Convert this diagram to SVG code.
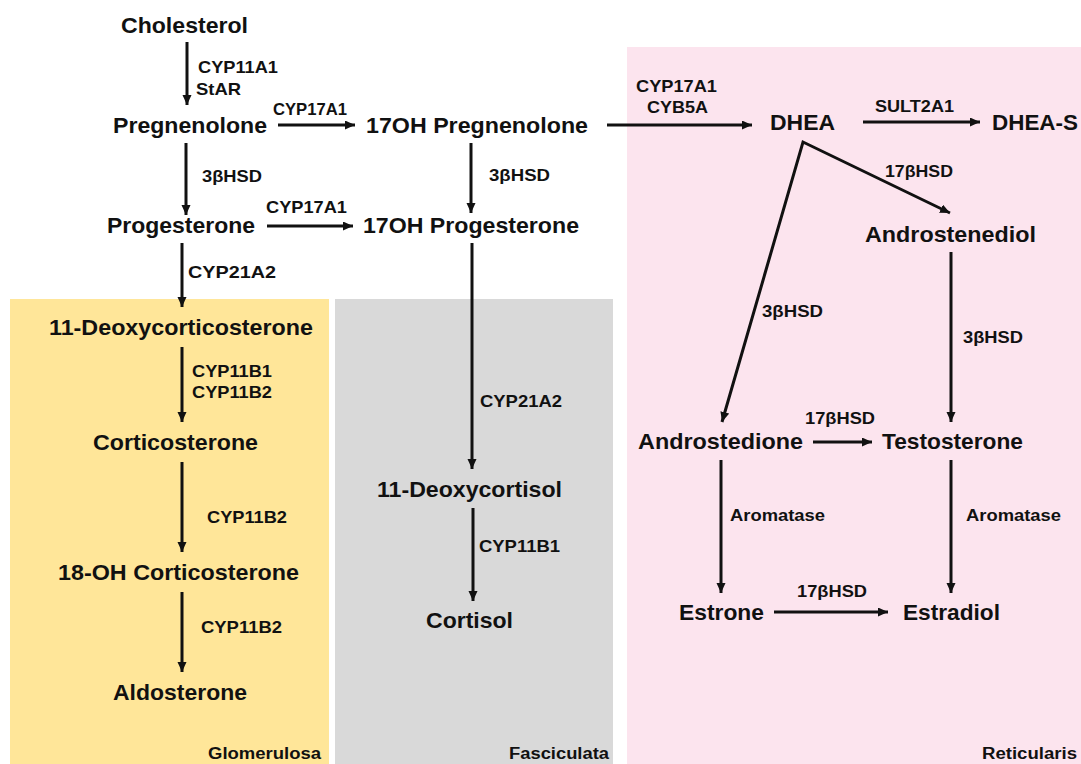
<svg xmlns="http://www.w3.org/2000/svg" width="1081" height="764" viewBox="0 0 1081 764">
  <defs>
    <marker id="ah" markerUnits="userSpaceOnUse" markerWidth="11" markerHeight="10" refX="10" refY="4.5" orient="auto-start-reverse">
      <path d="M0,0 L10,4.5 L0,9 z" fill="#111"/>
    </marker>
    <style>
      text { font-family: "Liberation Sans", Arial, sans-serif; font-weight: bold; fill: #111; }
      .n { font-size: 22px; }
      .e { font-size: 17px; }
      .z { font-size: 16px; }
      .c line, .c polyline { stroke: #111; stroke-width: 3; fill: none; marker-end: url(#ah); }
      .c polyline { marker-start: url(#ah); stroke-linejoin: miter; }
    </style>
  </defs>

  <rect width="1081" height="764" fill="#ffffff"/>

  <!-- adrenal cortex zones -->
  <g id="zones">
    <rect x="10" y="299" width="319" height="465" fill="#FFE699"/>
    <rect x="335" y="299" width="278" height="465" fill="#D9D9D9"/>
    <rect x="627" y="47" width="454" height="717" fill="#FCE4EE"/>
    <text class="z" x="208" y="759" textLength="113" lengthAdjust="spacingAndGlyphs">Glomerulosa</text>
    <text class="z" x="509" y="759" textLength="100" lengthAdjust="spacingAndGlyphs">Fasciculata</text>
    <text class="z" x="982" y="759" textLength="95" lengthAdjust="spacingAndGlyphs">Reticularis</text>
  </g>

  <!-- reaction arrows -->
  <g id="connectors" class="c">
    <line x1="187" y1="42" x2="187" y2="105"/>
    <line x1="278" y1="125" x2="355" y2="125"/>
    <line x1="186" y1="143" x2="186" y2="215"/>
    <line x1="267" y1="226" x2="353" y2="226"/>
    <line x1="471" y1="143" x2="471" y2="213"/>
    <line x1="182" y1="243" x2="182" y2="307"/>
    <line x1="472" y1="243" x2="472" y2="469"/>
    <line x1="182" y1="347" x2="182" y2="422"/>
    <line x1="182" y1="462" x2="182" y2="552"/>
    <line x1="182" y1="592" x2="182" y2="672"/>
    <line x1="473" y1="508" x2="473" y2="601"/>
    <line x1="607" y1="125" x2="752" y2="125"/>
    <line x1="863" y1="122" x2="980" y2="122"/>
    <polyline points="722,422 803,142 950,213"/>
    <line x1="951" y1="252" x2="951" y2="422"/>
    <line x1="813" y1="442" x2="872" y2="442"/>
    <line x1="721" y1="460" x2="721" y2="593"/>
    <line x1="951" y1="460" x2="951" y2="593"/>
    <line x1="774" y1="612" x2="888" y2="612"/>
  </g>

  <!-- enzyme labels -->
  <g id="enzymes" class="e">
    <text x="198" y="73" textLength="80" lengthAdjust="spacingAndGlyphs">CYP11A1</text>
    <text x="196" y="95" textLength="45" lengthAdjust="spacingAndGlyphs">StAR</text>
    <text x="273" y="115" textLength="74" lengthAdjust="spacingAndGlyphs">CYP17A1</text>
    <text x="202" y="182" textLength="60" lengthAdjust="spacingAndGlyphs">3βHSD</text>
    <text x="266" y="213" textLength="81" lengthAdjust="spacingAndGlyphs">CYP17A1</text>
    <text x="489" y="181" textLength="61" lengthAdjust="spacingAndGlyphs">3βHSD</text>
    <text x="188" y="278" textLength="88" lengthAdjust="spacingAndGlyphs">CYP21A2</text>
    <text x="192" y="377" textLength="80" lengthAdjust="spacingAndGlyphs">CYP11B1</text>
    <text x="192" y="398" textLength="80" lengthAdjust="spacingAndGlyphs">CYP11B2</text>
    <text x="207" y="523" textLength="80" lengthAdjust="spacingAndGlyphs">CYP11B2</text>
    <text x="201" y="633" textLength="81" lengthAdjust="spacingAndGlyphs">CYP11B2</text>
    <text x="480" y="407" textLength="82" lengthAdjust="spacingAndGlyphs">CYP21A2</text>
    <text x="479" y="552" textLength="81" lengthAdjust="spacingAndGlyphs">CYP11B1</text>
    <text x="636" y="92" textLength="81" lengthAdjust="spacingAndGlyphs">CYP17A1</text>
    <text x="647" y="113" textLength="61" lengthAdjust="spacingAndGlyphs">CYB5A</text>
    <text x="875" y="112" textLength="79" lengthAdjust="spacingAndGlyphs">SULT2A1</text>
    <text x="885" y="177" textLength="68" lengthAdjust="spacingAndGlyphs">17βHSD</text>
    <text x="762" y="317" textLength="61" lengthAdjust="spacingAndGlyphs">3βHSD</text>
    <text x="963" y="343" textLength="60" lengthAdjust="spacingAndGlyphs">3βHSD</text>
    <text x="805" y="424" textLength="70" lengthAdjust="spacingAndGlyphs">17βHSD</text>
    <text x="730" y="521" textLength="95" lengthAdjust="spacingAndGlyphs">Aromatase</text>
    <text x="966" y="521" textLength="95" lengthAdjust="spacingAndGlyphs">Aromatase</text>
    <text x="797" y="597" textLength="70" lengthAdjust="spacingAndGlyphs">17βHSD</text>
  </g>

  <!-- steroids -->
  <g id="cholesterol" class="n"><text x="121" y="33" textLength="127" lengthAdjust="spacingAndGlyphs">Cholesterol</text></g>
  <g id="pregnenolone" class="n"><text x="113" y="133" textLength="154" lengthAdjust="spacingAndGlyphs">Pregnenolone</text></g>
  <g id="oh17-pregnenolone" class="n"><text x="366" y="133" textLength="222" lengthAdjust="spacingAndGlyphs">17OH Pregnenolone</text></g>
  <g id="progesterone" class="n"><text x="107" y="233" textLength="148" lengthAdjust="spacingAndGlyphs">Progesterone</text></g>
  <g id="oh17-progesterone" class="n"><text x="363" y="233" textLength="216" lengthAdjust="spacingAndGlyphs">17OH Progesterone</text></g>
  <g id="dhea" class="n"><text x="770" y="130" textLength="65" lengthAdjust="spacingAndGlyphs">DHEA</text></g>
  <g id="dhea-s" class="n"><text x="992" y="130" textLength="86" lengthAdjust="spacingAndGlyphs">DHEA-S</text></g>
  <g id="androstenediol" class="n"><text x="865" y="242" textLength="171" lengthAdjust="spacingAndGlyphs">Androstenediol</text></g>
  <g id="deoxycorticosterone" class="n"><text x="49" y="335" textLength="264" lengthAdjust="spacingAndGlyphs">11-Deoxycorticosterone</text></g>
  <g id="corticosterone" class="n"><text x="93" y="450" textLength="165" lengthAdjust="spacingAndGlyphs">Corticosterone</text></g>
  <g id="oh18-corticosterone" class="n"><text x="58" y="580" textLength="241" lengthAdjust="spacingAndGlyphs">18-OH Corticosterone</text></g>
  <g id="aldosterone" class="n"><text x="113" y="700" textLength="134" lengthAdjust="spacingAndGlyphs">Aldosterone</text></g>
  <g id="deoxycortisol" class="n"><text x="377" y="497" textLength="185" lengthAdjust="spacingAndGlyphs">11-Deoxycortisol</text></g>
  <g id="cortisol" class="n"><text x="426" y="628" textLength="87" lengthAdjust="spacingAndGlyphs">Cortisol</text></g>
  <g id="androstedione" class="n"><text x="638" y="449" textLength="165" lengthAdjust="spacingAndGlyphs">Androstedione</text></g>
  <g id="testosterone" class="n"><text x="882" y="449" textLength="141" lengthAdjust="spacingAndGlyphs">Testosterone</text></g>
  <g id="estrone" class="n"><text x="679" y="620" textLength="85" lengthAdjust="spacingAndGlyphs">Estrone</text></g>
  <g id="estradiol" class="n"><text x="903" y="620" textLength="97" lengthAdjust="spacingAndGlyphs">Estradiol</text></g>
</svg>
